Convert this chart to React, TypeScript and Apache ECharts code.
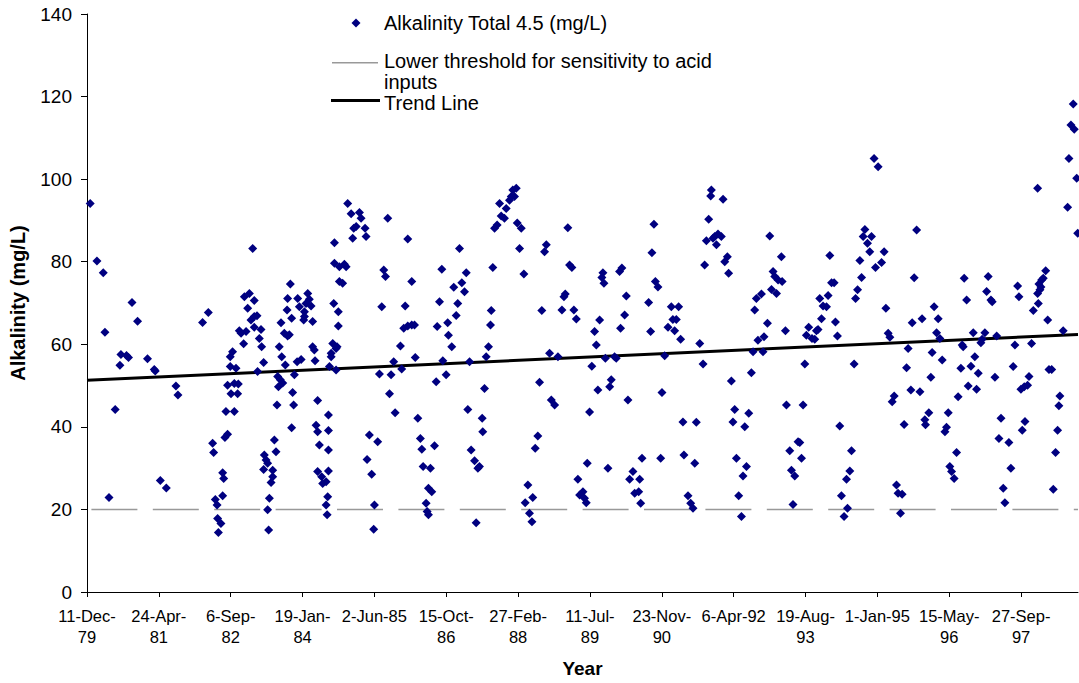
import { useEffect, useRef } from "react";
import * as echarts from "echarts";

// x values are days counted from 11-Dec-1979 (first axis tick)
const axisMaxDay = 6896;
const xTickDays = [0, 500, 1000, 1500, 2000, 2500, 3000, 3500, 4000, 4500, 5000, 5500, 6000, 6500];
const xTickLabels = [
  "11-Dec-\n79", "24-Apr-\n81", "6-Sep-\n82", "19-Jan-\n84", "2-Jun-85", "15-Oct-\n86", "27-Feb-\n88",
  "11-Jul-\n89", "23-Nov-\n90", "6-Apr-92", "19-Aug-\n93", "1-Jan-95", "15-May-\n96", "27-Sep-\n97",
];
const yMin = 0;
const yMax = 140;
const yStep = 20;

const seriesName = "Alkalinity Total 4.5 (mg/L)";
const thresholdName = "Lower threshold for sensitivity to acid inputs";
const thresholdLegendLines = ["Lower threshold for sensitivity to acid", "inputs"];
const trendName = "Trend Line";

const thresholdValue = 20;
const trendDays = [0, 6896];
const trendValues = [51.3, 62.4];

// [day, alkalinity mg/L]
const observations: [number, number][] = [
  [22,94.1],[69,80.2],[113,77.3],[313,70.1],[352,65.6],[125,62.9],[236,57.5],[275,57.3],[289,56.8],[229,54.9],[421,56.5],[468,53.9],[475,53.5],[619,49.9],[633,47.7],[196,44.2],[153,22.9],[510,27.0],[552,25.2],[804,65.3],[844,67.7],
  [874,36.0],[881,33.8],[944,28.9],[951,27.5],[944,23.3],[893,22.4],[905,21.1],[909,17.8],[932,16.6],[914,14.4],[960,37.4],[978,38.2],[967,43.7],[1025,43.7],[978,50.1],[1025,50.5],[1048,48.0],[1002,48.0],[1053,50.4],[997,54.6],[1037,54.2],[997,57.0],[1013,58.2],[1072,62.7],[1090,60.1],[1060,63.3],[1107,63.1],[1118,68.7],[1095,71.5],[1130,72.3],[1164,70.6],[1153,83.2],[1141,65.9],[1164,66.7],[1183,66.9],[1164,64.1],[1211,63.6],[1199,61.4],[1215,59.4],[1229,55.6],[1187,53.4],[1304,36.8],[1315,34.0],[1234,33.2],[1246,32.0],[1257,31.2],[1229,29.7],[1292,29.5],[1292,27.9],[1281,26.5],[1269,22.7],[1257,19.9],[1264,15.0],[1322,45.3],[1350,65.2],[1338,59.4],[1355,57.0],[1380,55.0],[1373,62.7],[1396,62.0],[1408,62.3],[1392,68.3],[1424,66.3],[1396,71.1],[1415,74.6],[1327,52.2],[1345,51.4],[1362,50.6],[1332,49.7],[1431,48.3],[1438,45.3],[1424,39.8],[1466,71.1],[1478,69.1],[1513,67.9],[1524,69.9],[1536,72.3],[1547,70.9],[1559,69.3],[1508,65.9],[1570,65.5],[1513,66.7],[1443,52.6],[1462,55.8],[1490,56.3],[1570,59.4],[1582,58.6],[1587,56.0],[1605,46.4],[1594,40.4],[1605,38.8],[1617,35.6],[1605,29.2],[1633,27.9],[1640,26.3],
  [1680,42.9],[1680,39.1],[1680,34.4],[1680,29.3],[1664,26.7],[1675,23.1],[1664,21.1],[1671,18.7],[1722,84.6],[1722,79.6],[1756,78.8],[1791,79.4],[1803,78.8],[1756,75.2],[1779,74.8],[1717,69.9],[1749,67.9],[1749,64.4],[1710,60.2],[1733,59.0],[1699,57.8],[1699,57.0],[1740,59.4],[1687,54.6],[1733,53.8],[1814,94.1],[1838,91.6],[1896,91.9],[1907,90.5],[1873,88.5],[1849,85.7],[1935,88.1],[1942,86.1],[1856,88.1],[2093,90.5],[2065,78.0],[2077,76.4],[2051,69.1],[2035,52.8],[2116,52.6],[2105,48.0],[2144,43.4],[2134,55.8],[2190,54.0],[1965,38.0],[2023,36.4],[1949,32.1],[1981,28.5],[2000,21.1],[1995,15.2],[2232,85.5],[2260,75.2],[2214,69.3],[2204,63.9],[2232,64.4],[2260,64.7],[2279,64.7],[2181,59.6],[2284,56.8],[2302,42.1],[2320,37.2],[2330,34.6],[2418,35.4],[2339,30.4],[2390,30.0],[2376,25.1],[2399,24.3],[2360,21.5],[2367,19.5],[2376,18.7],[2469,78.2],[2453,70.3],[2437,64.3],[2510,65.2],[2515,62.2],[2476,56.0],[2499,52.6],[2430,50.9],
  [2538,59.4],[2592,83.2],[2639,77.3],[2608,74.9],[2627,72.7],[2552,73.8],[2580,69.9],[2569,67.0],[2662,55.8],[2650,44.2],[2673,34.4],[2697,31.8],[2731,30.4],[2720,30.0],[2750,42.1],[2754,38.8],[2766,49.3],[2708,16.8],[2824,78.6],[2813,68.2],[2808,64.7],[2794,59.4],[2778,57.0],[2836,88.1],[2854,88.9],[2871,94.1],[2882,91.1],[2905,90.5],[2917,92.9],[2940,94.9],[2963,97.4],[2987,97.8],[2975,95.8],[2952,95.8],[2994,89.4],[3022,88.1],[3010,83.2],[3040,77.0],[3149,50.8],[3137,37.8],[3119,34.8],[3068,25.9],[3102,22.9],[3049,21.6],[3079,19.1],[3096,17.0],[3165,68.2],[3196,84.1],[3184,82.4],[3219,57.8],[3277,57.0],[3231,46.5],[3254,45.3],[3305,68.3],[3319,71.5],[3328,72.2],
  [3346,88.2],[3358,79.2],[3374,78.6],[3388,68.3],[3405,66.1],[3532,63.1],[3544,59.8],[3513,54.7],[3567,65.9],[3590,77.3],[3583,76.2],[3597,74.8],[3497,43.6],[3555,48.9],[3607,56.6],[3671,57.0],[3683,56.6],[3648,51.4],[3637,49.7],[3706,77.6],[3722,78.5],[3753,71.7],[3741,67.1],[3713,63.9],[3764,46.5],[3481,31.2],[3416,27.3],[3428,23.5],[3451,24.3],[3462,22.7],[3474,21.6],[3625,30.0],[3862,32.4],[3799,29.2],[3776,27.3],[3846,27.3],[3811,23.9],[3839,24.3],[3853,21.5],[3945,89.1],[3931,82.2],[3955,75.2],[3973,73.9],[3908,70.1],[3922,63.1],[3992,32.4],[4001,48.3],[4020,57.2],[4043,64.1],[4066,69.1],[4117,69.1],[4077,66.0],[4101,66.0],[4089,63.3],[4131,61.2],[4147,41.2],[4154,33.2],
  [4182,23.3],[4201,21.5],[4217,20.3],[4240,41.1],[4229,31.2],[4264,60.2],[4287,55.2],[4345,97.4],[4340,95.9],[4426,95.1],[4326,90.3],[4310,85.1],[4368,86.1],[4391,86.7],[4414,86.1],[4380,84.1],[4356,85.7],[4298,79.2],[4438,80.0],[4456,81.2],[4465,77.2],[4484,51.1],[4507,44.2],[4495,41.2],[4577,40.0],[4605,43.3],[4519,32.4],[4589,30.4],[4565,28.1],[4535,23.3],[4554,18.3],[4623,53.1],[4635,58.2],[4704,58.2],[4669,61.0],[4711,61.8],[4735,65.1],[4646,68.3],[4658,71.1],[4693,72.2],[4751,86.2],[4763,73.3],[4798,72.3],[4774,77.6],[4786,76.4],[4809,75.6],[4837,75.2],[4832,81.2],[4860,63.3],[4867,45.3],[4983,45.3],[4890,34.2],[4948,36.4],[4960,36.2],[4972,32.4],[4902,29.5],[4925,28.1],[4913,21.2],[5006,62.2],[5022,64.1],[4995,55.2],
  [5064,61.2],[5076,63.3],[5087,63.6],[5045,61.4],[5111,66.2],[5099,71.1],[5122,69.3],[5146,69.1],[5157,71.8],[5181,74.9],[5199,74.9],[5169,81.5],[5208,65.4],[5222,62.0],[5238,40.2],[5320,34.2],[5308,29.3],[5285,27.3],[5250,23.3],[5292,20.3],[5268,18.3],[5338,55.2],[5348,71.1],[5362,73.2],[5390,76.2],[5378,80.3],[5413,87.8],[5401,86.1],[5459,86.1],[5431,84.5],[5447,82.4],[5487,78.6],[5529,79.8],[5547,82.4],[5477,105.0],[5505,103.0],[5559,68.7],[5575,62.7],[5587,61.7],[5617,47.5],[5603,46.1],[5633,25.9],[5644,23.9],[5672,23.7],[5661,19.1],[5686,40.6],[5703,54.3],[5714,59.0],[5733,48.9],[5796,48.5],[5742,65.2],[5811,66.2],[5756,76.1],[5773,87.7],[5830,41.7],[5835,40.5],
  [5858,43.4],[5872,52.0],[5881,58.0],[5895,69.1],[5923,66.2],[5912,62.8],[5935,61.4],[5951,56.2],[5970,38.8],[5981,39.9],[5993,43.4],[6051,33.8],[6004,30.4],[6016,29.2],[6034,27.5],[6062,47.3],[6081,54.2],[6151,54.7],[6178,57.0],[6202,53.0],[6090,59.8],[6097,59.4],[6132,49.9],[6190,49.1],[6104,76.0],[6121,70.7],[6167,62.8],[6220,60.4],[6229,61.2],[6248,62.8],[6271,76.4],[6260,72.8],[6290,70.7],[6299,70.3],[6318,52.0],[6330,62.0],[6360,42.1],[6346,37.2],[6415,36.2],[6429,30.0],[6376,25.1],[6387,21.6],[6445,54.6],[6457,59.8],[6476,74.1],[6485,71.5],[6499,49.1],[6522,49.7],[6545,50.1],[6555,52.2],[6527,41.3],[6508,39.2],[6573,60.2],[6585,68.2],[6620,69.9],[6615,72.3],[6631,73.2],[6624,74.6],[6643,75.6],[6654,76.0],[6671,77.8],[6638,73.9],[6615,97.8],[6685,65.9],[6694,53.9],[6713,53.9],[6770,47.5],[6763,45.1],[6754,39.2],[6740,33.8],[6724,24.9],[6793,63.3],[6824,93.2],[6833,105.0],[6863,118.2],[6847,113.1],[6870,112.1],[6887,100.2],[6894,86.9],
];

const FONT = "'Liberation Sans', Arial, Helvetica, sans-serif";
const NAVY = "#000080";
const GREY = "#999999";

export default function App() {
  const ref = useRef<HTMLDivElement>(null);

  useEffect(() => {
    if (!ref.current) return;
    const chart = echarts.init(ref.current, null, { renderer: "svg" });
    const legendText = (text: string, y: number, lineHeight: number) => ({
      type: "text",
      x: 384,
      y,
      style: {
        text,
        fontFamily: FONT,
        fontSize: 20,
        lineHeight,
        fill: "#000",
        verticalAlign: "middle",
        align: "left",
      },
    });
    chart.setOption({
      animation: false,
      backgroundColor: "#ffffff",
      textStyle: { fontFamily: FONT, color: "#000" },
      grid: { left: 87, right: 1, top: 14, bottom: 91, outerBoundsMode: "none" },
      xAxis: {
        type: "value",
        min: 0,
        max: axisMaxDay,
        interval: 500,
        name: "Year",
        nameLocation: "middle",
        nameGap: 67,
        nameTextStyle: { fontFamily: FONT, fontWeight: "bold", fontSize: 19, color: "#000" },
        axisLine: { show: true, onZero: false, lineStyle: { color: "#000", width: 1 } },
        axisTick: { show: true, customValues: xTickDays, length: 5, lineStyle: { color: "#000", width: 1 } },
        axisLabel: {
          customValues: xTickDays,
          formatter: (v: number) => {
            const i = xTickDays.indexOf(Math.round(v));
            return i >= 0 ? xTickLabels[i] : "";
          },
          fontFamily: FONT,
          fontSize: 16.5,
          lineHeight: 21.5,
          color: "#000",
          margin: 13,
          align: "center",
        },
        splitLine: { show: false },
      },
      yAxis: {
        type: "value",
        min: yMin,
        max: yMax,
        interval: yStep,
        name: "Alkalinity (mg/L)",
        nameLocation: "middle",
        nameGap: 59,
        nameTextStyle: { fontFamily: FONT, fontWeight: "bold", fontSize: 20, color: "#000" },
        axisLine: { show: true, onZero: false, lineStyle: { color: "#000", width: 1 } },
        axisTick: { show: true, length: 6, lineStyle: { color: "#000", width: 1 } },
        axisLabel: { fontFamily: FONT, fontSize: 19, color: "#000", margin: 15 },
        splitLine: { show: false },
      },
      graphic: [
        {
          type: "polygon",
          shape: { points: [[356, 18.5], [360.5, 23], [356, 27.5], [351.5, 23]] },
          style: { fill: NAVY },
        },
        legendText(seriesName, 22.5, 20),
        {
          type: "line",
          shape: { x1: 332, y1: 62.7, x2: 378, y2: 62.7 },
          style: { stroke: GREY, lineWidth: 1.5 },
        },
        legendText(thresholdLegendLines[0], 61.4, 20),
        legendText(thresholdLegendLines[1], 82.2, 17),
        {
          type: "line",
          shape: { x1: 331, y1: 100.5, x2: 380, y2: 100.5 },
          style: { stroke: "#000", lineWidth: 3 },
        },
        legendText(trendName, 102.8, 15),
      ],
      series: [
        {
          name: thresholdName,
          type: "line",
          data: [[0, thresholdValue], [axisMaxDay, thresholdValue]],
          symbol: "none",
          silent: true,
          z: 1,
          lineStyle: { color: GREY, width: 1.5, type: [46, 15.4], dashOffset: 57.2 },
        },
        {
          name: trendName,
          type: "line",
          data: trendDays.map((d, i) => [d, trendValues[i]]),
          symbol: "none",
          silent: true,
          z: 2,
          lineStyle: { color: "#000", width: 3 },
        },
        {
          name: seriesName,
          type: "scatter",
          data: observations,
          symbol: "diamond",
          symbolSize: 9,
          z: 3,
          itemStyle: { color: NAVY, opacity: 1 },
        },
      ],
    });
    return () => chart.dispose();
  }, []);

  return (
    <div
      ref={ref}
      style={{ position: "fixed", left: 0, top: 0, width: 1079, height: 683, background: "#fff" }}
    />
  );
}
